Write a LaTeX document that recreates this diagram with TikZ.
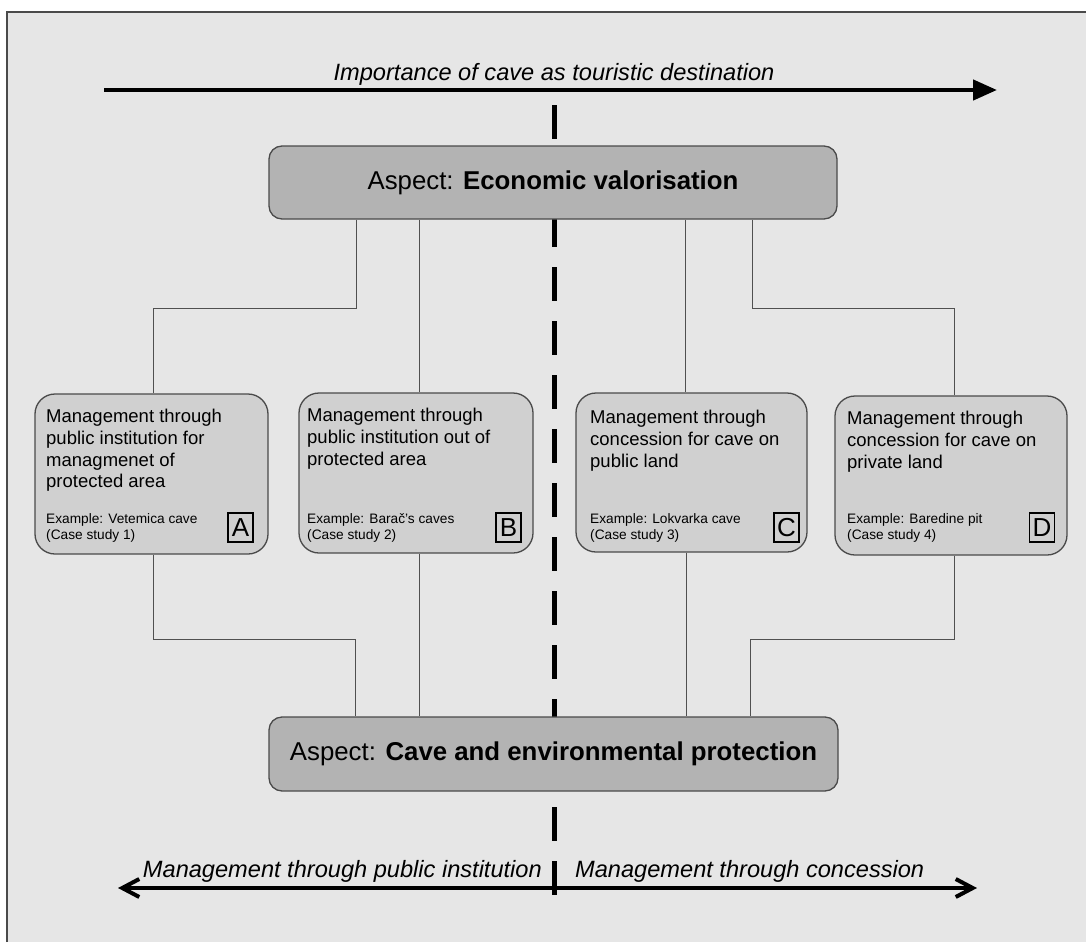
\documentclass[tikz,border=0pt]{standalone}
\usepackage{fontspec}
\setmainfont{Liberation Sans}
\usetikzlibrary{arrows.meta,calc}
\definecolor{bgc}{HTML}{E6E6E6}
\definecolor{bigfill}{HTML}{B3B3B3}
\definecolor{smallfill}{HTML}{D0D0D0}
\definecolor{edgec}{HTML}{4A4A4A}
\definecolor{linec}{HTML}{505050}
\begin{document}
\begin{tikzpicture}[x=1pt,y=-1pt,
  bigbox/.style={draw=edgec, line width=1.3pt, fill=bigfill, rounded corners=13pt,
    minimum width=568pt, minimum height=73pt, inner sep=0pt,
    font=\fontsize{25.8}{30}\selectfont},
  smallbox/.style={draw=edgec, line width=1.3pt, fill=smallfill, rounded corners=20pt,
    minimum width=233pt, minimum height=160pt, inner sep=0pt},
  maintxt/.style={anchor=north west, inner sep=0pt, align=left,
    font=\fontsize{18.5}{21.7}\selectfont},
  extxt/.style={anchor=north west, inner sep=0pt, align=left,
    font=\fontsize{13.7}{16.5}\selectfont},
  letterbox/.style={draw=black, line width=1.3pt, minimum width=25pt, minimum height=29pt,
    inner sep=0pt, font=\fontsize{26}{28}\selectfont},
  conn/.style={draw=linec, line width=1pt},
  italtxt/.style={inner sep=0pt, font=\fontsize{23.6}{26}\selectfont\itshape},
  axis/.style={line width=4.5pt, black}
]
\useasboundingbox (0,0) rectangle (1086,942);
\fill[white] (0,0) rectangle (1086,942);
\fill[bgc] (7,12) rectangle (1086,942);
\draw[edgec, line width=1.3pt] (7,942) -- (7,12) -- (1086,12);

% dashed divider
\coordinate (d1) at (554,105);
\coordinate (d2) at (554,895);
\draw[line width=5pt, dash pattern=on 34pt off 20pt] (d1) -- (d2);

% boxes
\node[bigbox] (E) at (553,182.5) {Aspect: \textbf{Economic valorisation}};
\node[bigbox, minimum width=569pt, minimum height=74pt] (P) at (553.5,754) {Aspect: \textbf{Cave and environmental protection}};

\node[smallbox] (A) at (151.5,474) {};
\node[smallbox, minimum width=234pt] (B) at (416,473) {};
\node[smallbox, minimum width=231pt, minimum height=159pt] (C) at (691.5,472.5) {};
\node[smallbox, minimum width=232pt, minimum height=159pt] (D) at (951,475.5) {};

% connectors top
\draw[conn] ([xshift=88pt]E.south west) -- ++(0,89) -| ([xshift=1.5pt]A.north);
\draw[conn] ([xshift=151pt]E.south west) -- ([xshift=151pt]E.south west |- B.north);
\draw[conn] ([xshift=417pt]E.south west) -- ([xshift=417pt]E.south west |- C.north);
\draw[conn] ([xshift=484pt]E.south west) -- ++(0,89) -| ([xshift=3pt]D.north);
% connectors bottom
\draw[conn] ([xshift=1.5pt]A.south) -- ++(0,85) -| ([xshift=87pt]P.north west);
\draw[conn] ([xshift=3pt]B.south) -- ([xshift=3pt]B.south |- P.north);
\draw[conn] ([xshift=-5pt]C.south) -- ([xshift=-5pt]C.south |- P.north);
\draw[conn] ([xshift=3pt]D.south) -- ++(0,84) -| ([xshift=482pt]P.north west);

% box texts
\node[maintxt] (At) at (46,409) {Management through\\public institution for\\managmenet of\\protected area};
\node[extxt] (Ae) at (46,513) {Example: Vetemica cave\\(Case study 1)};
\node[letterbox] (La) at (240.5,527.5) {A};

\node[maintxt] (Bt) at (307,408) {Management through\\public institution out of\\protected area};
\node[extxt] (Be) at (307,513) {Example: Barač’s caves\\(Case study 2)};
\node[letterbox] (Lb) at (508.5,527.5) {B};

\node[maintxt] (Ct) at (590,410) {Management through\\concession for cave on\\public land};
\node[extxt] (Ce) at (590,513) {Example: Lokvarka cave\\(Case study 3)};
\node[letterbox] (Lc) at (786.5,527.5) {C};

\node[maintxt] (Dt) at (847,411) {Management through\\concession for cave on\\private land};
\node[extxt] (De) at (847,513) {Example: Baredine pit\\(Case study 4)};
\node[letterbox] (Ld) at (1042,527.5) {D};

% top axis
\coordinate (t1) at (104,90);
\coordinate (t2) at (997,90);
\draw[axis, -{Triangle[length=24pt,width=20pt]}] (t1) -- (t2);
\node[italtxt, anchor=base] (tt) at (554,80) {Importance of cave as touristic destination};

% bottom axis
\coordinate (b1) at (118,888);
\coordinate (b2) at (977,888);
\draw[line width=4pt, {Straight Barb[length=17pt,width=18pt]}-{Straight Barb[length=17pt,width=18pt]}] (b1) -- (b2);
\node[italtxt, anchor=base east] (bl) at (542,877) {Management through public institution};
\node[italtxt, anchor=base west] (br) at (575,877) {Management through concession};
\end{tikzpicture}
\end{document}
